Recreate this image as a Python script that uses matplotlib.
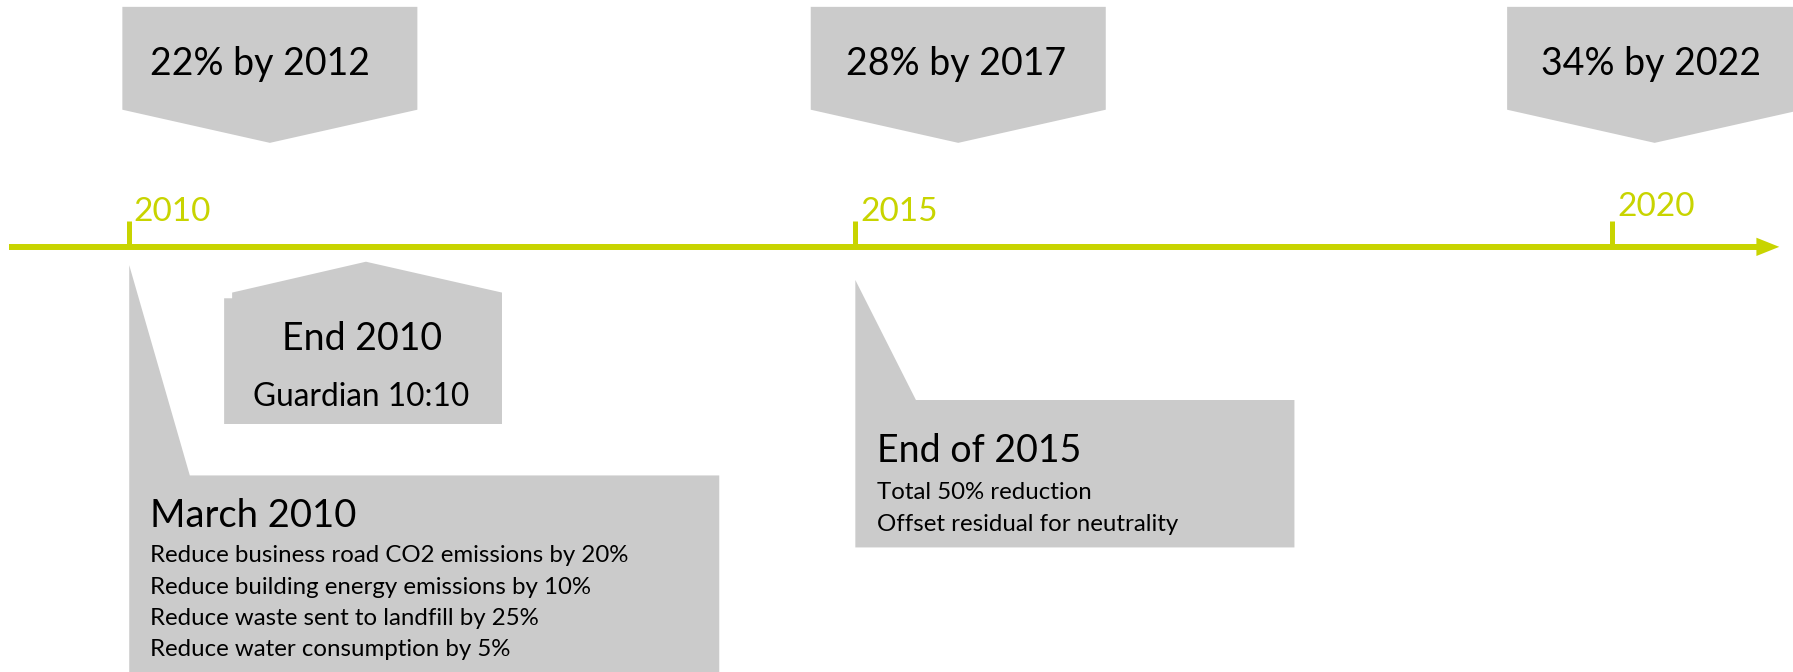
import matplotlib
matplotlib.use("Agg")
import matplotlib.pyplot as plt
from matplotlib.patches import Polygon

plt.rcParams['font.family'] = ['Lato', 'DejaVu Sans']

# timeline data
years = [2010, 2015, 2020]
targets = ['22% by 2012', '28% by 2017', '34% by 2022']
end2010_title = 'End 2010'
end2010_note = 'Guardian 10:10'
march_title = 'March 2010'
march_lines = ['Reduce business road CO2 emissions by 20%',
               'Reduce building energy emissions by 10%',
               'Reduce waste sent to landfill by 25%',
               'Reduce water consumption by 5%']
end2015_title = 'End of 2015'
end2015_lines = ['Total 50% reduction', 'Offset residual for neutrality']

GREEN = '#c8d400'
GREY = '#cbcbcb'
BIG = 27
SMALL = 17.3

# layout (canvas units, 1568 x 588, y down)
tick_x = [113, 748, 1410]
label_dy = [0, 0, -4]
target_x = [107, 709, 1318]
target_text_dx = [24, 31, 30]
chev_w = 258
axis_y = 216

fig = plt.figure(figsize=(17.93, 6.72), dpi=100)
ax = fig.add_axes([0, 0, 1, 1])
ax.set_xlim(0, 1568)
ax.set_ylim(588, 0)
ax.axis('off')

# top chevrons with targets
for x0, dx, txt in zip(target_x, target_text_dx, targets):
    pts = [(x0, 6), (x0 + chev_w, 6), (x0 + chev_w, 96),
           (x0 + chev_w / 2, 125), (x0, 96)]
    ax.add_patch(Polygon(pts, closed=True, fc=GREY, ec='none'))
    ax.text(x0 + dx, 66, txt, fontsize=BIG, va='baseline', ha='left', color='black')

# axis line with arrow
ax.plot([8, 1540], [axis_y, axis_y], color=GREEN, lw=4.3, solid_capstyle='butt')
ax.add_patch(Polygon([(1536, axis_y - 8), (1556, axis_y), (1536, axis_y + 8)],
                     closed=True, fc=GREEN, ec='none'))
for x, yr, dy in zip(tick_x, years, label_dy):
    ax.plot([x, x], [193, axis_y], color=GREEN, lw=3.6, solid_capstyle='butt')
    ax.text(x + 4, 193 + dy, str(yr), fontsize=24, color=GREEN,
            va='baseline', ha='left')

# End 2010 box (pointing up)
pts = [(196, 371), (196, 261), (203, 261), (203, 256), (320, 229),
       (439, 256), (439, 371)]
ax.add_patch(Polygon(pts, closed=True, fc=GREY, ec='none'))
ax.text(317, 306, end2010_title, fontsize=BIG, ha='center', va='baseline')
ax.text(316, 355, end2010_note, fontsize=22.8, ha='center', va='baseline')

# March 2010 callout
pts = [(113, 232), (166, 416), (629, 416), (629, 600), (113, 600)]
ax.add_patch(Polygon(pts, closed=True, fc=GREY, ec='none'))
ax.text(131, 461, march_title, fontsize=BIG + 0.5, ha='left', va='baseline')
for i, line in enumerate(march_lines):
    ax.text(131, 492 + i * 27.4, line, fontsize=SMALL, ha='left', va='baseline')

# End of 2015 callout
pts = [(748, 245), (801, 350), (1132, 350), (1132, 479), (748, 479)]
ax.add_patch(Polygon(pts, closed=True, fc=GREY, ec='none'))
ax.text(767, 404, end2015_title, fontsize=BIG, ha='left', va='baseline')
for i, line in enumerate(end2015_lines):
    ax.text(767, 437 + i * 28, line, fontsize=SMALL, ha='left', va='baseline')

fig.savefig('out.png', dpi=100)
